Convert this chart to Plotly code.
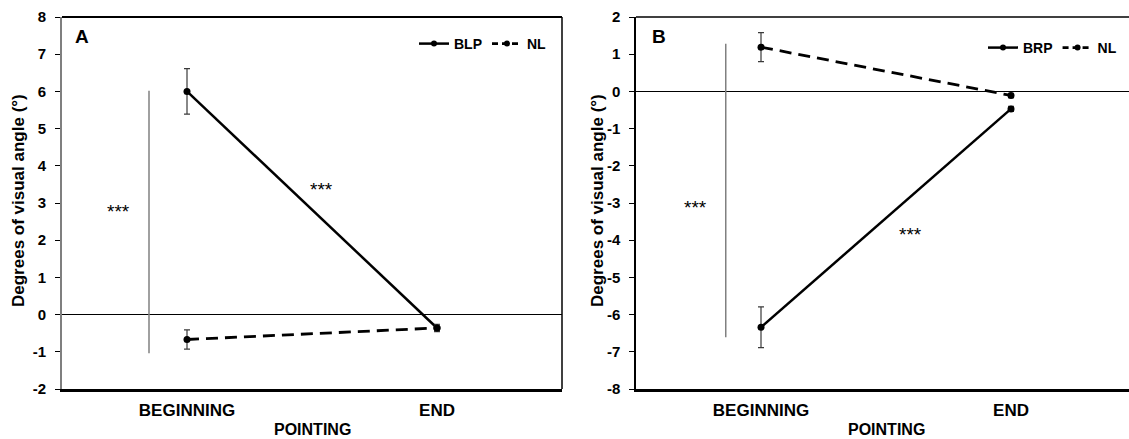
import plotly.graph_objects as go

# Pointing phases (category positions 0 and 1)
phases = ["BEGINNING", "END"]
phase_pos = [0, 1]

# Panel A: BLP vs NL (degrees of visual angle)
blp_mean = [6.0, -0.36]
blp_err = [0.61, 0.10]
nl_a_mean = [-0.67, -0.36]
nl_a_err = [0.26, 0.08]

# Panel B: BRP vs NL
brp_mean = [-6.34, -0.47]
brp_err = [0.55, 0.07]
nl_b_mean = [1.19, -0.11]
nl_b_err = [0.39, 0.06]

# Significance markers
sig_a_line_x = [-0.152, -0.152]
sig_a_line_y = [6.02, -1.04]
sig_a_text = [(-0.276, 2.78), (0.536, 3.35)]
sig_b_line_x = [-0.141, -0.141]
sig_b_line_y = [1.28, -6.61]
sig_b_text = [(-0.264, -3.11), (0.596, -3.86)]

W, H = 1129, 439
FONT = "Liberation Sans, Arial, sans-serif"

def px_x(p):
    return p / W

def px_y(p):
    return 1 - p / H

dom_y = [px_y(389), px_y(17)]
dom_a = [px_x(62), px_x(562)]
dom_b = [px_x(636), 1.0]

fig = go.Figure()

def add_series(xax, yax, y, err, name, dash, width, legend, legend_dash):
    fig.add_trace(go.Scatter(
        x=phase_pos, y=y, xaxis=xax, yaxis=yax, showlegend=False,
        mode="lines+markers",
        line=dict(color="black", width=width, dash=dash),
        marker=dict(color="black", size=7),
        error_y=dict(type="data", array=err, visible=True,
                     color="#3a3a3a", thickness=1.2, width=3),
    ))
    # legend entry with a shorter dash so the pattern reads in the small sample
    fig.add_trace(go.Scatter(
        x=[None], y=[None], xaxis=xax, yaxis=yax, name="<b>%s</b>" % name,
        legend=legend, mode="lines+markers",
        line=dict(color="black", width=width, dash=legend_dash),
        marker=dict(color="black", size=6),
    ))

add_series("x", "y", blp_mean, blp_err, "BLP", "solid", 2.5, "legend", "solid")
add_series("x", "y", nl_a_mean, nl_a_err, "NL", "12px,7px", 2.8, "legend", "6px,4px")
add_series("x2", "y2", brp_mean, brp_err, "BRP", "solid", 2.5, "legend2", "solid")
add_series("x2", "y2", nl_b_mean, nl_b_err, "NL", "12px,7px", 2.8, "legend2", "6px,4px")

for xs, ys, xax, yax in [(sig_a_line_x, sig_a_line_y, "x", "y"),
                         (sig_b_line_x, sig_b_line_y, "x2", "y2")]:
    fig.add_trace(go.Scatter(x=xs, y=ys, xaxis=xax, yaxis=yax, mode="lines",
                             line=dict(color="#808080", width=1.5),
                             showlegend=False, hoverinfo="skip"))

annotations = []
for (sx, sy) in sig_a_text:
    annotations.append(dict(x=sx, y=sy, xref="x", yref="y", text="***",
                            xanchor="center", yanchor="middle",
                            showarrow=False, font=dict(family=FONT, size=19, color="black")))
for (sx, sy) in sig_b_text:
    annotations.append(dict(x=sx, y=sy, xref="x2", yref="y2", text="***",
                            xanchor="center", yanchor="middle",
                            showarrow=False, font=dict(family=FONT, size=19, color="black")))

# Panel letters
annotations.append(dict(x=px_x(73), y=px_y(36), xref="paper", yref="paper", text="<b>A</b>",
                        xanchor="left", yanchor="middle", showarrow=False,
                        font=dict(family=FONT, size=19, color="black")))
annotations.append(dict(x=px_x(650), y=px_y(36), xref="paper", yref="paper", text="<b>B</b>",
                        xanchor="left", yanchor="middle", showarrow=False,
                        font=dict(family=FONT, size=19, color="black")))

# Axis titles
for cx in (18, 597):
    annotations.append(dict(x=px_x(cx), y=px_y(201), xref="paper", yref="paper",
                            text="<b>Degrees of visual angle (°)</b>", textangle=-90,
                            xanchor="center", yanchor="middle",
                            showarrow=False, font=dict(family=FONT, size=17, color="black")))
for cx in (312, 886):
    annotations.append(dict(x=px_x(cx), y=px_y(429), xref="paper", yref="paper",
                            text="<b>POINTING</b>", showarrow=False,
                            xanchor="center", yanchor="middle",
                            font=dict(family=FONT, size=16, color="black")))

# Frame lines (top border, right border of panel A)
shapes = [
    dict(type="line", xref="x domain", yref="y domain", x0=0, x1=1, y0=1, y1=1,
         line=dict(color="black", width=2)),
    dict(type="line", xref="x domain", yref="y domain", x0=1, x1=1, y0=0, y1=1,
         line=dict(color="black", width=1.5)),
    dict(type="line", xref="x2 domain", yref="y2 domain", x0=0, x1=1, y0=1, y1=1,
         line=dict(color="black", width=1.5)),
]

xaxis_common = dict(
    tickvals=phase_pos, ticktext=["<b>%s</b>" % p for p in phases],
    showline=True, linecolor="black", linewidth=3, ticks="",
    showgrid=False, zeroline=False, automargin=False,
    ticklabelstandoff=4,
    tickfont=dict(family=FONT, size=17, color="black"),
)
yaxis_common = dict(
    showline=True, ticks="outside", ticklen=5, tickcolor="black", tickwidth=1,
    showgrid=False, zeroline=True, zerolinecolor="black", zerolinewidth=1,
    tickfont=dict(family=FONT, size=15, color="black"),
    ticklabelstandoff=6, automargin=False,
)

legend_font = dict(family=FONT, size=14, color="black")

fig.update_layout(
    width=W, height=H, margin=dict(l=0, r=0, t=0, b=0, autoexpand=False),
    paper_bgcolor="white", plot_bgcolor="white",
    showlegend=True,
    xaxis=dict(domain=dom_a, range=[-0.5, 1.5], anchor="y", **xaxis_common),
    yaxis=dict(domain=dom_y, range=[-2, 8], anchor="x", linecolor="#7f7f7f", linewidth=2,
               tickvals=list(range(-2, 9)), ticktext=["<b>%d</b>" % v for v in range(-2, 9)],
               **yaxis_common),
    xaxis2=dict(domain=dom_b, range=[-0.5, -0.5 + 493 / 250], anchor="y2", **xaxis_common),
    yaxis2=dict(domain=dom_y, range=[-8, 2], anchor="x2", linecolor="black", linewidth=1.5,
                tickvals=list(range(-8, 3)), ticktext=["<b>%d</b>" % v for v in range(-8, 3)],
                **yaxis_common),
    legend=dict(x=px_x(552), y=px_y(44), xanchor="right", yanchor="middle",
                orientation="h", font=legend_font, itemwidth=30,
                bgcolor="rgba(0,0,0,0)", tracegroupgap=0, itemclick=False),
    legend2=dict(x=px_x(1122), y=px_y(48), xanchor="right", yanchor="middle",
                 orientation="h", font=legend_font, itemwidth=30,
                 bgcolor="rgba(0,0,0,0)", tracegroupgap=0, itemclick=False),
    annotations=annotations,
    shapes=shapes,
)

fig.write_html("out.html")
